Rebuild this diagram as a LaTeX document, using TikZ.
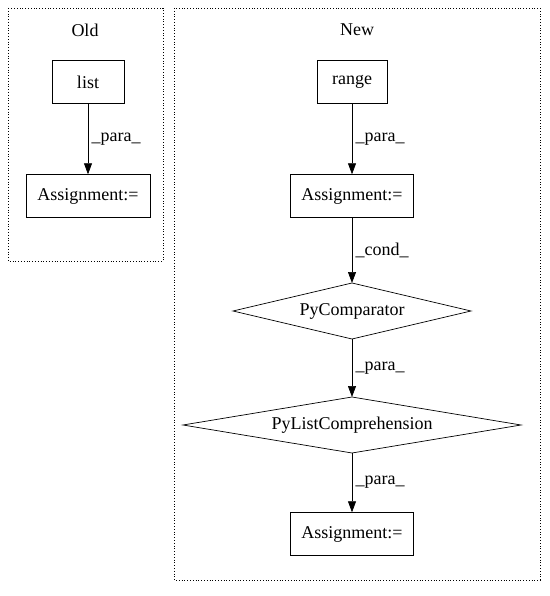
\documentclass[tikz,border=0pt]{standalone}
\usepackage{fontspec}
\setmainfont{Liberation Serif}
\usetikzlibrary{shapes.geometric,arrows.meta}
\begin{document}
\begin{tikzpicture}[x=1pt,y=-1pt,
  box/.style={draw,rectangle,minimum height=43pt,inner sep=0pt,font=\fontsize{18}{20}\selectfont},
  txt/.style={inner sep=0pt,font=\fontsize{18}{20}\selectfont},
  cluster/.style={draw,dotted,line width=0.8pt},
  lbl/.style={font=\fontsize{18}{20}\selectfont},
  arr/.style={-{Triangle[length=11pt,width=8pt]},line width=0.7pt}]
\useasboundingbox (0,0) rectangle (549,596);
\draw[cluster] (8,8) rectangle (163,261);
\draw[cluster] (174,8) rectangle (540,580);
\node[lbl] (old) at (85,30) {Old};
\node[lbl] (new) at (357,30) {New};
\node[box,minimum width=72pt] (list) at (88,82) {list};
\node[box,minimum width=124pt] (a1) at (88,196) {Assignment:=};
\node[box,minimum width=70pt] (range) at (352,82) {range};
\node[box,minimum width=123pt] (a2) at (352,196) {Assignment:=};
% PyComparator diamond
\node[txt] (pc) at (352,311) {PyComparator};
\coordinate (pct) at (352,283);
\coordinate (pcb) at (352,339);
\draw[line width=0.7pt] (233,311) -- (pct) -- (471,311) -- (pcb) -- cycle;
% PyListComprehension diamond
\node[txt] (plc) at (352,425) {PyListComprehension};
\coordinate (plct) at (352,397);
\coordinate (plcb) at (352,453);
\draw[line width=0.7pt] (183,425) -- (plct) -- (521,425) -- (plcb) -- cycle;
\node[box,minimum width=123pt] (a3) at (352,534) {Assignment:=};
\draw[arr] (list) -- (a1) node[lbl,midway,right=0pt] {\_para\_};
\draw[arr] (range) -- (a2) node[lbl,midway,right=0pt] {\_para\_};
\draw[arr] (a2) -- (pct) node[lbl,midway,right=0pt] {\_cond\_};
\draw[arr] (pcb) -- (plct) node[lbl,midway,right=0pt] {\_para\_};
\draw[arr] (plcb) -- (a3) node[lbl,midway,right=0pt] {\_para\_};
\end{tikzpicture}
\end{document}
